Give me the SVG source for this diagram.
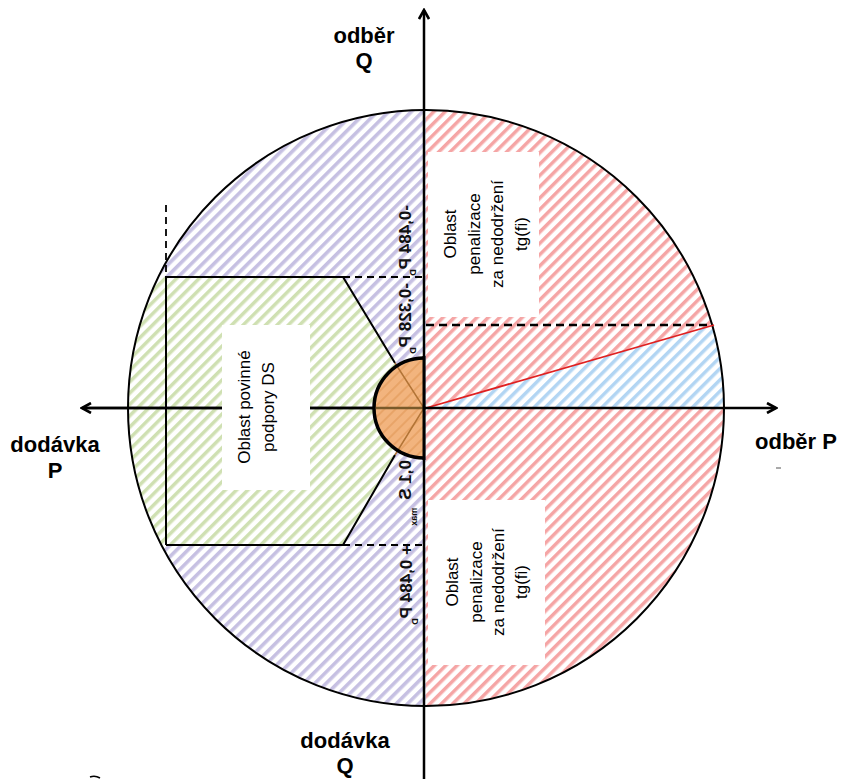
<svg xmlns="http://www.w3.org/2000/svg" width="846" height="779" viewBox="0 0 846 779">
<style>
.lbl{font-family:"Liberation Sans",Arial,sans-serif;font-weight:bold;font-size:22px;fill:#000}
.box{fill:#fff}
.bt{font-family:"Liberation Sans",Arial,sans-serif;font-size:17px;fill:#000;text-anchor:middle}
.val{font-family:"Liberation Sans",Arial,sans-serif;font-weight:bold;font-size:17px;fill:#111}
.sub{font-size:9px}
.ln{stroke:#000;stroke-width:2;fill:none}
.dash{stroke:#000;stroke-width:1.8;stroke-dasharray:7 5;fill:none}
</style>
<defs>
<pattern id="hp" width="8" height="8" patternUnits="userSpaceOnUse" patternTransform="rotate(45)"><rect width="8" height="8" fill="#fff"/><rect width="3.6" height="8" fill="#c6c0e2"/></pattern>
<pattern id="hr" width="8" height="8" patternUnits="userSpaceOnUse" patternTransform="rotate(45)"><rect width="8" height="8" fill="#fff"/><rect width="3.5" height="8" fill="#f5a5a5"/></pattern>
<pattern id="hg" width="8" height="8" patternUnits="userSpaceOnUse" patternTransform="rotate(45)"><rect width="8" height="8" fill="#fff"/><rect width="3.5" height="8" fill="#cfe0b2"/></pattern>
<pattern id="hb" width="8" height="8" patternUnits="userSpaceOnUse" patternTransform="rotate(45)"><rect width="8" height="8" fill="#fff"/><rect width="3.5" height="8" fill="#b2d5f3"/></pattern>
<pattern id="ho" width="8" height="8" patternUnits="userSpaceOnUse" patternTransform="rotate(45)"><rect width="8" height="8" fill="#f2b47e"/><rect width="2" height="8" fill="#e8a468"/></pattern>
<clipPath id="cc"><circle cx="426" cy="408" r="298"/></clipPath>
<marker id="ah" viewBox="0 0 12 12" refX="10" refY="6" markerWidth="12" markerHeight="12" markerUnits="userSpaceOnUse" orient="auto"><path d="M1,1 L10,6 L1,11" fill="none" stroke="#000" stroke-width="2.6"/></marker>
</defs>

<g id="regions">
<path id="left-half" d="M426,110 A298,298 0 0 0 426,706 Z" fill="url(#hp)"/>
<path id="right-half" d="M426,110 A298,298 0 0 1 426,706 Z" fill="url(#hr)"/>
<path id="green-area" clip-path="url(#cc)" d="M100,277 L343,277 L395,363 L395,455 L343,545 L100,545 Z" fill="url(#hg)"/>
<path id="blue-area" d="M426,408 L712,325 A298,298 0 0 1 724,408 Z" fill="url(#hb)"/>
</g>

<g id="connectors">
<circle cx="426" cy="408" r="298" class="ln"/>
<path class="ln" d="M166,545 L166,277 L343,277 L395,363"/>
<path class="ln" d="M166,545 L343,545 L395,455"/>
<path class="dash" d="M166,205 L166,277" stroke-width="2.2"/>
<path class="dash" d="M343,277 L424,277" stroke-width="1.5"/>
<path class="dash" d="M343,545 L424,545" stroke-width="1.5"/>
<path d="M426,325 L712,325" stroke="#000" stroke-width="2.6" stroke-dasharray="8 5" fill="none"/>
<path d="M426,408 L714,325" stroke="#e02020" stroke-width="1.8" fill="none"/>
<path d="M84,408 L776,408" stroke="#000" stroke-width="2.5" fill="none" marker-end="url(#ah)"/>
<path d="M426,408 L82,408" stroke="#000" stroke-width="2.5" fill="none" marker-end="url(#ah)"/>
<path d="M424,779 L424,10" stroke="#000" stroke-width="2.5" fill="none" marker-end="url(#ah)"/>
</g>

<g id="orange-zone">
<path d="M424,358 A50,50 0 0 0 424,458 Z" fill="url(#ho)"/>
<path d="M395,363 L424,408 L395,455" stroke="#b27436" stroke-width="1.5" fill="none"/>
<path d="M376,408 L424,408" stroke="#7a5a2a" stroke-width="2.5"/>
<path d="M424,358 A50,50 0 0 0 424,458" stroke="#000" stroke-width="3.5" fill="none"/>
<path d="M424,356 L424,460" stroke="#000" stroke-width="3"/>
</g>

<g id="box-penal-top">
<rect class="box" x="428" y="152" width="111" height="165"/>
<text class="bt" transform="translate(485,234) rotate(-90)"><tspan x="0" y="-29">Oblast</tspan><tspan x="0" y="-5.5">penalizace</tspan><tspan x="0" y="18">za nedodržení</tspan><tspan x="0" y="41.5">tg(fi)</tspan></text>
</g>

<g id="box-penal-bottom">
<rect class="box" x="428" y="500" width="117" height="165"/>
<text class="bt" transform="translate(487,582) rotate(-90)"><tspan x="0" y="-29">Oblast</tspan><tspan x="0" y="-5.5">penalizace</tspan><tspan x="0" y="17">za nedodržení</tspan><tspan x="0" y="40">tg(fi)</tspan></text>
</g>

<g id="box-podpora">
<rect class="box" x="222" y="325" width="88" height="165"/>
<text class="bt" transform="translate(256,407) rotate(-90)"><tspan x="0" y="-6">Oblast povinné</tspan><tspan x="0" y="18">podpory DS</tspan></text>
</g>

<g id="values">
<text class="val" transform="matrix(0 1 1 0 411 205)">-0,484 P<tspan class="sub" dy="5">D</tspan></text>
<text class="val" transform="matrix(0 1 1 0 411 283)">-0,328 P<tspan class="sub" dy="5">D</tspan></text>
<text class="val" transform="matrix(0 1 1 0 411 460)">0,1 S<tspan class="sub" dx="8" dy="6">max</tspan></text>
<text class="val" transform="matrix(0 1 1 0 412 545)">+ 0,484 P<tspan class="sub" dy="6">D</tspan></text>
</g>

<g id="axis-labels">
<text class="lbl" x="364" y="43" text-anchor="middle">odběr</text>
<text class="lbl" x="364" y="68" text-anchor="middle">Q</text>
<text class="lbl" x="55" y="452" text-anchor="middle">dodávka</text>
<text class="lbl" x="55" y="478" text-anchor="middle">P</text>
<text class="lbl" x="755" y="449">odběr P</text>
<text class="lbl" x="345" y="748" text-anchor="middle">dodávka</text>
<text class="lbl" x="345" y="773" text-anchor="middle">Q</text>
</g>
<path d="M776,468 L781,468" stroke="#555" stroke-width="1"/>
<path d="M90,777 Q95,775 100,778" stroke="#000" stroke-width="1.5" fill="none"/>
</svg>
